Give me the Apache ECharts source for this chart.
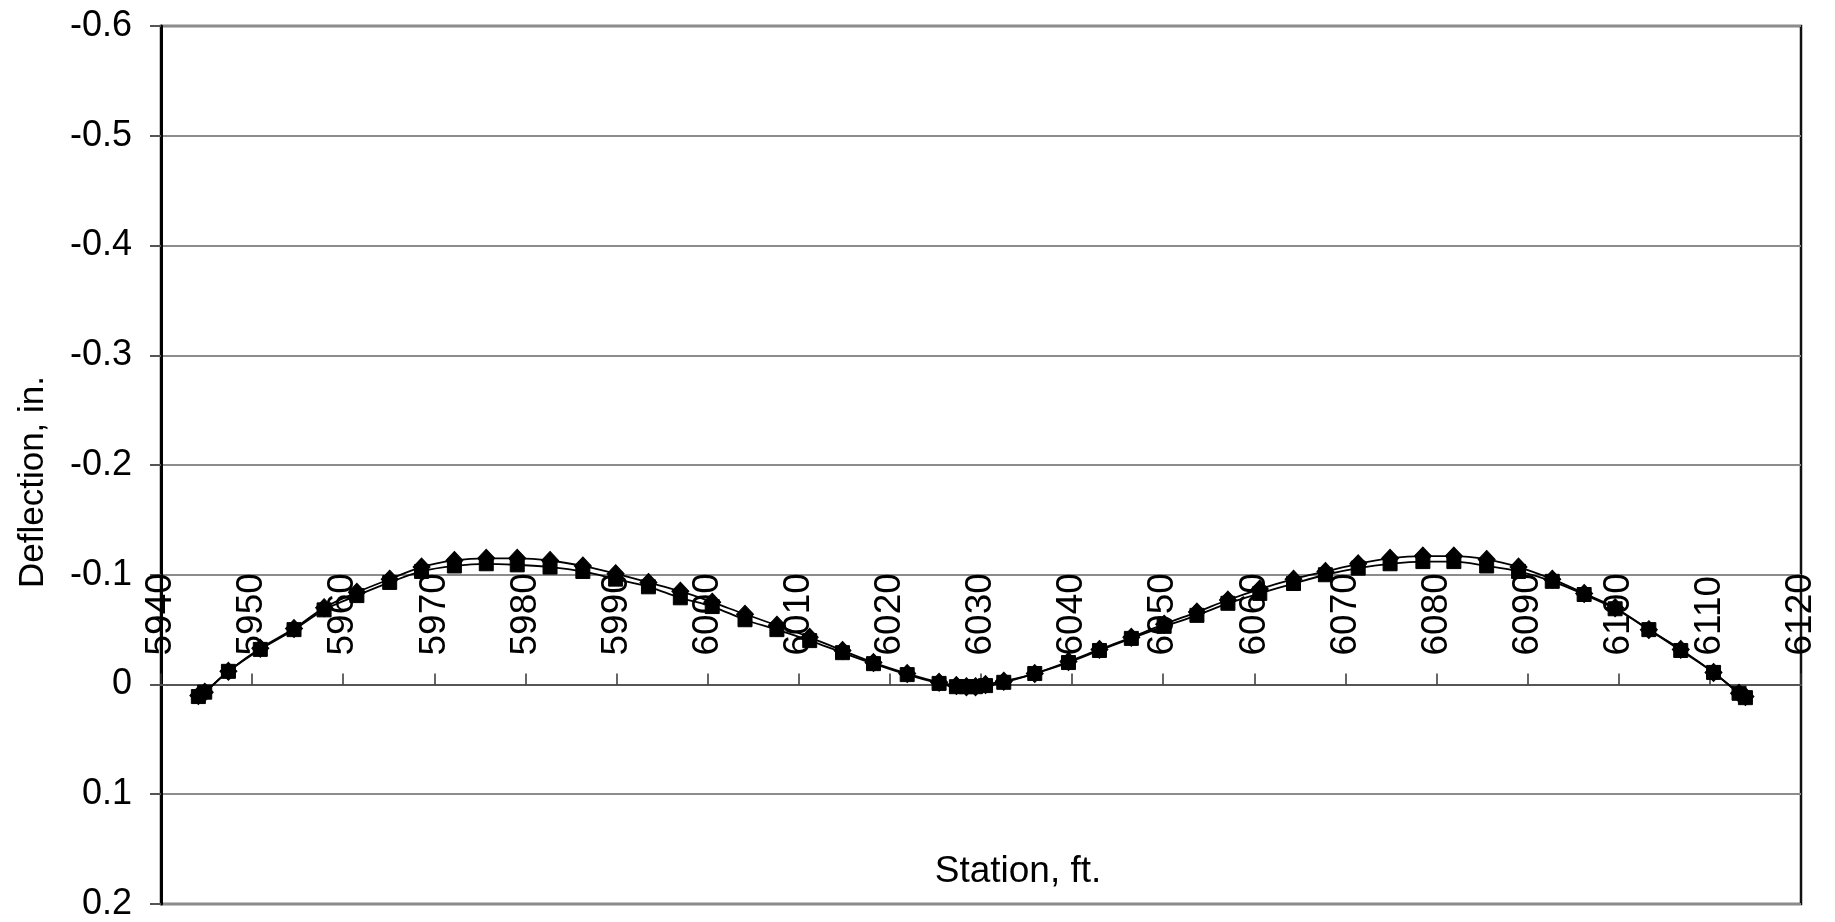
<!DOCTYPE html>
<html>
<head>
<meta charset="utf-8">
<script src="https://cdn.jsdelivr.net/npm/echarts@6/dist/echarts.min.js"></script>
<style>
html,body{margin:0;padding:0;background:#fff;}
#chart{width:1835px;height:922px;}
</style>
</head>
<body>
<div id="chart"></div>
<script>
// Station, ft.
var stations = [5944.1, 5944.8, 5947.4, 5950.9, 5954.6, 5957.9, 5961.5, 5965.1, 5968.6, 5972.2,
  5975.7, 5979.1, 5982.7, 5986.3, 5989.9, 5993.5, 5997.0, 6000.5, 6004.1, 6007.6,
  6011.2, 6014.8, 6018.2, 6021.9, 6025.4, 6027.3, 6028.4, 6029.4, 6030.5, 6032.5,
  6035.9, 6039.6, 6043.0, 6046.5, 6050.1, 6053.7, 6057.1, 6060.6, 6064.3, 6067.8,
  6071.4, 6074.9, 6078.5, 6081.9, 6085.5, 6089.0, 6092.7, 6096.2, 6099.6, 6103.3,
  6106.8, 6110.4, 6113.2, 6113.9];
// Deflection, in. (diamond series)
var deflectionDiamond = [0.010, 0.007, -0.012, -0.033, -0.051, -0.070, -0.084, -0.096, -0.107, -0.113,
  -0.115, -0.115, -0.113, -0.108, -0.101, -0.093, -0.085, -0.075, -0.064, -0.054,
  -0.043, -0.031, -0.020, -0.010, -0.002, 0.001, 0.002, 0.002, 0.000, -0.003,
  -0.010, -0.021, -0.032, -0.043, -0.055, -0.066, -0.077, -0.087, -0.096, -0.103,
  -0.110, -0.115, -0.117, -0.117, -0.114, -0.107, -0.096, -0.083, -0.070, -0.050,
  -0.032, -0.011, 0.008, 0.011];
// Deflection, in. (square series)
var deflectionSquare = [0.011, 0.007, -0.012, -0.032, -0.050, -0.068, -0.081, -0.093, -0.103, -0.108,
  -0.110, -0.109, -0.107, -0.103, -0.096, -0.089, -0.079, -0.071, -0.059, -0.050,
  -0.040, -0.029, -0.019, -0.009, -0.001, 0.002, 0.002, 0.002, 0.001, -0.002,
  -0.010, -0.020, -0.031, -0.042, -0.053, -0.063, -0.074, -0.083, -0.092, -0.100,
  -0.106, -0.110, -0.112, -0.112, -0.108, -0.103, -0.094, -0.082, -0.069, -0.050,
  -0.031, -0.011, 0.008, 0.012];
var yTickLabels = ['-0.6', '-0.5', '-0.4', '-0.3', '-0.2', '-0.1', '0', '0.1', '0.2'];
var xAxisTitle = 'Station, ft.';
var yAxisTitle = 'Deflection, in.';

function pairs(xs, ys) {
  return xs.map(function (x, i) { return [x, ys[i]]; });
}

var FONT = '"Liberation Sans", Arial, sans-serif';
var GRID_TOP = 26, GRID_BOTTOM = 18, H = 922;
var Y_MIN = -0.6, Y_MAX = 0.2;
// shift the station axis from the grid bottom up to the y = 0 line
var plotH = H - GRID_TOP - GRID_BOTTOM;
var zeroOffset = -plotH * (Y_MAX - 0) / (Y_MAX - Y_MIN);

var chart = echarts.init(document.getElementById('chart'), null, {renderer: 'canvas'});
chart.setOption({
  animation: false,
  backgroundColor: '#ffffff',
  grid: {
    left: 161, right: 34, top: GRID_TOP, bottom: GRID_BOTTOM,
    show: true, borderColor: '#111', borderWidth: 2.5,
    containLabel: false
  },
  xAxis: {
    type: 'value', min: 5940, max: 6120, interval: 10,
    position: 'bottom', offset: zeroOffset,
    axisLine: {show: true, onZero: false, lineStyle: {color: '#555', width: 2}},
    axisTick: {show: true, inside: true, length: 11, lineStyle: {color: '#333', width: 1.5}},
    axisLabel: {
      show: true, inside: true, rotate: 90, margin: 29, fontSize: 37, color: '#000', fontFamily: FONT,
      showMinLabel: true, showMaxLabel: true, hideOverlap: false,
      formatter: function (v) { return String(Math.round(v)); }
    },
    splitLine: {show: false}
  },
  yAxis: {
    type: 'value', min: Y_MIN, max: Y_MAX, interval: 0.1, inverse: true,
    axisLine: {show: true, onZero: false, lineStyle: {color: '#000', width: 3}},
    axisTick: {show: true, inside: false, length: 11, lineStyle: {color: '#555', width: 2}},
    axisLabel: {
      show: true, margin: 29, fontSize: 36, color: '#000', fontFamily: FONT,
      showMinLabel: true, showMaxLabel: true,
      formatter: function (v) {
        var i = Math.round((v - Y_MIN) / 0.1);
        return yTickLabels[i] !== undefined ? yTickLabels[i] : '';
      }
    },
    splitLine: {show: true, lineStyle: {color: '#8c8c8c', width: 2}}
  },
  graphic: [
    {
      type: 'text', x: 1018, y: 872,
      style: {text: xAxisTitle, fontSize: 37, fontFamily: FONT, fill: '#000',
        textAlign: 'center', textVerticalAlign: 'middle'}
    },
    {
      type: 'text', x: 33, y: 482, rotation: Math.PI / 2,
      style: {text: yAxisTitle, fontSize: 35, fontFamily: FONT, fill: '#000',
        textAlign: 'center', textVerticalAlign: 'middle'}
    }
  ],
  series: [
    {
      name: 'diamond', type: 'line', smooth: 0.35,
      data: pairs(stations, deflectionDiamond),
      symbol: 'diamond', symbolSize: [17, 18],
      lineStyle: {color: '#000', width: 1.8},
      itemStyle: {color: '#000', borderColor: '#000'},
      z: 3
    },
    {
      name: 'square', type: 'line', smooth: 0.35,
      data: pairs(stations, deflectionSquare),
      symbol: 'rect', symbolSize: 14,
      lineStyle: {color: '#000', width: 1.8},
      itemStyle: {color: '#000', borderColor: '#000'},
      z: 4
    }
  ]
});
</script>
</body>
</html>
